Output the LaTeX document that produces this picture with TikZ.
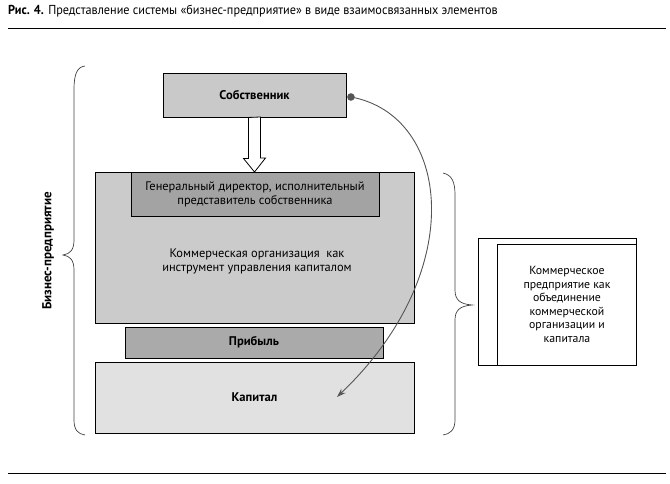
\documentclass[tikz,border=0pt]{standalone}
\usepackage{fontspec}
\setmainfont{PT Sans}
\usetikzlibrary{arrows.meta}
\definecolor{ownfill}{HTML}{C9C9C9}
\definecolor{orgfill}{HTML}{CBCBCB}
\definecolor{dirfill}{HTML}{A3A3A3}
\definecolor{profill}{HTML}{AAAAAA}
\definecolor{capfill}{HTML}{E1E1E1}
\definecolor{curvecol}{HTML}{555555}
\begin{document}
\begin{tikzpicture}[x=1pt,y=-1pt,
  box/.style={draw=black,line width=0.9pt,inner sep=0pt,align=center,font=\fontsize{12.4}{14}\selectfont},
  boldbox/.style={box,font=\fontsize{12.6}{14}\selectfont\bfseries},
  brace/.style={draw=black!75,line width=0.7pt},
  rule/.style={draw=black,line width=0.9pt}]
\useasboundingbox (0,0) rectangle (670,483);
% title
\node[anchor=west,inner sep=0pt,font=\fontsize{13}{15}\selectfont] (title) at (8,11)
  {\scalebox{0.94}[1]{\textbf{Рис. 4.} Представление системы «бизнес-предприятие» в виде взаимосвязанных элементов}};
\coordinate (r1a) at (8,28); \coordinate (r1b) at (666,28);
\draw[rule] (r1a) -- (r1b);
\coordinate (r2a) at (8,473); \coordinate (r2b) at (666,473);
\draw[rule] (r2a) -- (r2b);
% boxes
\node[boldbox,fill=ownfill,minimum width=183pt,minimum height=44pt] (own) at (254.5,95) {Собственник};
\node[box,fill=orgfill,minimum width=319pt,minimum height=151pt] (org) at (254.5,247.5) {};
\node[box,fill=dirfill,minimum width=248pt,minimum height=44pt] (dir) at (255,194)
  {Генеральный директор, исполнительный\\представитель собственника};
\node[box,draw=none,inner sep=0pt] (orgtext) at (257,261)
  {Коммерческая организация\ \ как\\инструмент управления капиталом};
\node[boldbox,fill=profill,minimum width=258pt,minimum height=31pt] (pro) at (254,342.5) {Прибыль};
\node[boldbox,fill=capfill,minimum width=319pt,minimum height=71pt] (cap) at (254.5,397.5) {Капитал};
% hollow arrow
\draw[line width=0.8pt,fill=white] (own.south) ++(-6,0) -- ++(0,41) -- ++(-5,0) -- (254.5,172) -- (265.5,158) -- (260.5,158) -- (260.5,117) -- cycle;
% right boxes
\node[draw=black,line width=0.9pt,minimum width=158pt,minimum height=127pt,inner sep=0pt] (outer) at (557.5,301.5) {};
\node[box,font=\fontsize{11.8}{13.6}\selectfont,minimum width=139pt,minimum height=121pt,anchor=south east] (inner) at (outer.south east)
  {Коммерческое\\предприятие как\\объединение\\коммерческой\\организации и\\капитала};
% braces
\draw[brace] (85,66) .. controls (77,67) and (74,74) .. (74,90) -- (74,240)
  .. controls (74,250) and (70,254) .. (63,255) .. controls (70,256) and (74,260) .. (74,270)
  -- (74,420) .. controls (74,430) and (78,434) .. (85,435);
\draw[brace] (443,173) .. controls (452,175) and (455,182) .. (455,195) -- (455,290)
  .. controls (455,300) and (460,304) .. (472,305) .. controls (460,306) and (455,310) .. (455,320)
  -- (455,420) .. controls (455,430) and (450,434) .. (443,435);
\node[rotate=90,inner sep=0pt,font=\fontsize{13}{15}\selectfont\bfseries] (biz) at (48,251) {Бизнес-предприятие};
% curve
\coordinate (capend) at (337,397);
\fill[curvecol] (own.east) ++(4.5,2) circle (3.8pt) coordinate (dot);
\draw[curvecol,line width=0.9pt,-{Stealth[length=9pt,width=6pt]}] (dot) .. controls (450,115) and (470,270) .. (capend);
\end{tikzpicture}
\end{document}
